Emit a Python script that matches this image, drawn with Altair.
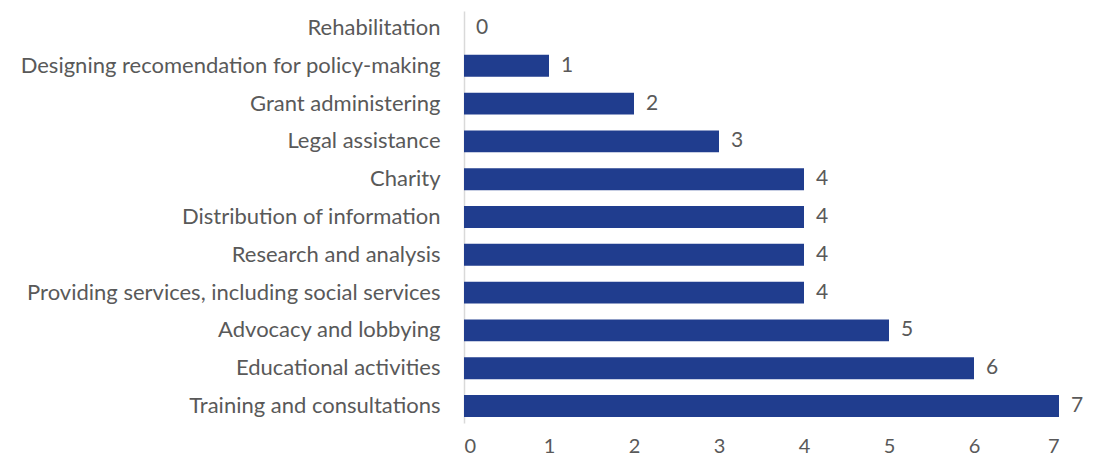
import altair as alt
import pandas as pd

categories = [
    "Rehabilitation",
    "Designing recomendation for policy-making",
    "Grant administering",
    "Legal assistance",
    "Charity",
    "Distribution of information",
    "Research and analysis",
    "Providing services, including social services",
    "Advocacy and lobbying",
    "Educational activities",
    "Training and consultations",
]
values = [0, 1, 2, 3, 4, 4, 4, 4, 5, 6, 7]

df = pd.DataFrame({"category": categories, "value": values})

FONT = "Lato"
GRAY = "#595959"

y = alt.Y(
    "category:N",
    sort=categories,
    scale=alt.Scale(paddingInner=0.42, paddingOuter=0.16),
    axis=alt.Axis(
        title=None,
        ticks=False,
        domain=True,
        domainColor="#D9D9D9",
        domainWidth=1.5,
        labelFont=FONT,
        labelFontSize=22,
        labelColor=GRAY,
        labelPadding=24,
        labelLimit=600,
    ),
)
x = alt.X(
    "value:Q",
    scale=alt.Scale(domain=[0, 7], nice=False),
    axis=alt.Axis(
        title=None,
        ticks=False,
        domain=False,
        grid=False,
        values=[0, 1, 2, 3, 4, 5, 6, 7],
        labelFont=FONT,
        labelFontSize=20,
        labelColor=GRAY,
        labelPadding=13,
    ),
)

bars = alt.Chart(df).mark_bar(color="#203D8E").encode(x=x, y=y)
labels = alt.Chart(df).mark_text(
    align="left", baseline="middle", dx=12, font=FONT, fontSize=21, color=GRAY
).encode(x=x, y=y, text="value:Q")

chart = (
    (bars + labels)
    .properties(
        width=595,
        height=412,
        autosize=alt.AutoSizeParams(type="none"),
        padding={"left": 456, "top": 3, "right": 26, "bottom": 35},
    )
    .configure_view(strokeWidth=0)
)

chart.save("out.html", embed_options={"renderer": "svg", "actions": False})
